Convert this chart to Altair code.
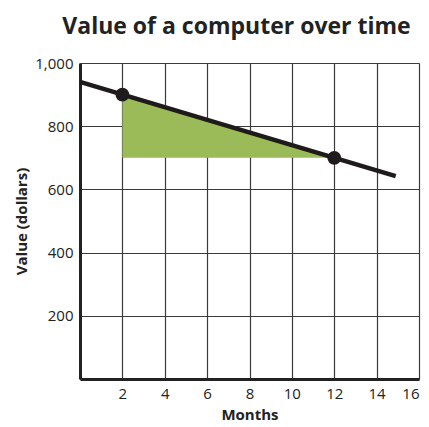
import altair as alt
import pandas as pd

# Data
line_x = [0, 14.9]
line_y = [940, 642]
point_x = [2, 12]
point_y = [900, 700]
tri_x = [2, 2, 12]
tri_y = [900, 700, 700]

FONT = "Open Sans"

line_df = pd.DataFrame({"Months": line_x, "Value": line_y})
pt_df = pd.DataFrame({"Months": point_x, "Value": point_y})
tri_df = pd.DataFrame({"Months": tri_x, "Value": tri_y, "order": [0, 1, 2]})

xscale = alt.Scale(domain=[0, 16], nice=False)
yscale = alt.Scale(domain=[0, 1000], nice=False)

xaxis = alt.Axis(
    values=list(range(0, 17, 2)),
    labelExpr="datum.value > 0 ? datum.label : ''",
    grid=True, gridColor="#3a3a3a", gridWidth=1.2, gridOpacity=1,
    ticks=False, domain=True, domainColor="#222", domainWidth=3,
    labelFont=FONT, labelFontSize=15, labelColor="#222", labelPadding=7,
    title="Months", titleFont=FONT, titleFontSize=15, titleFontWeight="bold",
    titleColor="#222", titlePadding=6,
)
yaxis = alt.Axis(
    values=list(range(0, 1001, 100)),
    labelExpr="(datum.value % 200 == 0 && datum.value > 0) ? format(datum.value, ',') : ''",
    grid=True, gridColor="#3a3a3a", gridWidth=1.2, gridOpacity=1,
    ticks=False, domain=True, domainColor="#222", domainWidth=3,
    labelFont=FONT, labelFontSize=15, labelColor="#222", labelPadding=7,
    title="Value (dollars)", titleFont=FONT, titleFontSize=15, titleFontWeight="bold",
    titleColor="#222", titlePadding=5,
)

tri = alt.Chart(tri_df).mark_line(color="#9BBB59", fill="#9BBB59", strokeWidth=0, filled=True).encode(
    x=alt.X("Months:Q", scale=xscale, axis=xaxis),
    y=alt.Y("Value:Q", scale=yscale, axis=yaxis),
    order="order:Q",
)

line = alt.Chart(line_df).mark_line(color="#1f1a1b", strokeWidth=4.5).encode(
    x=alt.X("Months:Q", scale=xscale),
    y=alt.Y("Value:Q", scale=yscale),
)

pts = alt.Chart(pt_df).mark_circle(color="#1f1a1b", size=190, opacity=1).encode(
    x=alt.X("Months:Q", scale=xscale),
    y=alt.Y("Value:Q", scale=yscale),
)

chart = alt.layer(tri, line, pts).properties(
    width=339, height=316,
    autosize="none",
    padding={"left": 72, "top": 55, "right": 2, "bottom": 48},
    title=alt.TitleParams(
        "Value of a computer over time", font=FONT, fontSize=23, fontWeight="bold",
        color="#222", anchor="middle", dx=-13, offset=17,
    ),
).configure_view(stroke=None).configure(background="white")

chart.save("out.html", embed_options={"renderer": "svg", "actions": False})
